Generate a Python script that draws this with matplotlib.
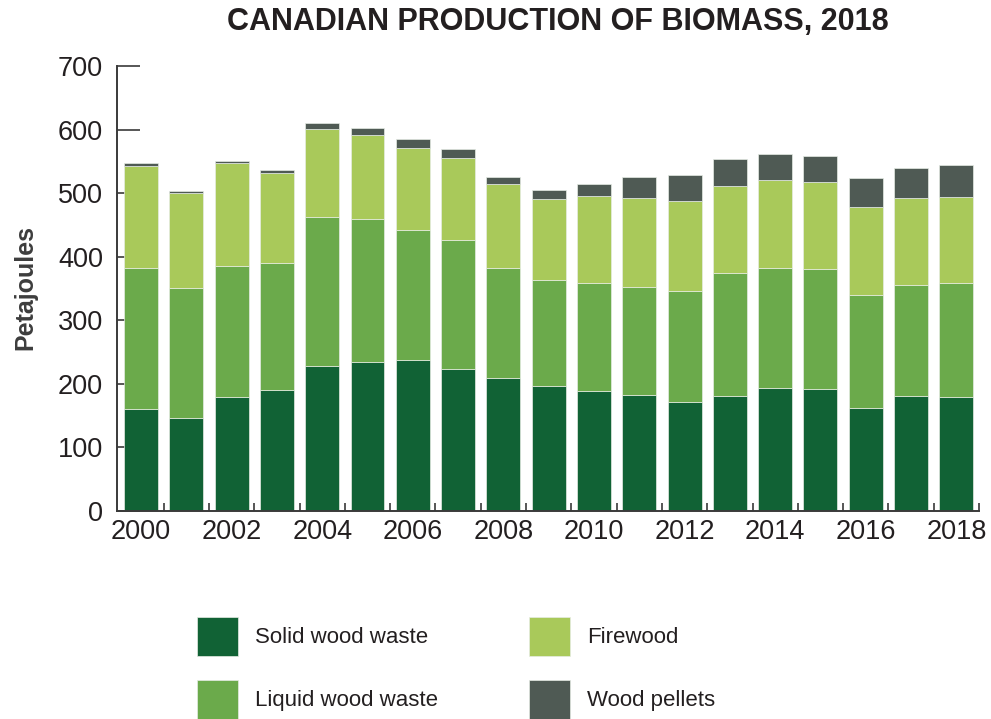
import matplotlib
matplotlib.use("Agg")
import matplotlib.pyplot as plt
import numpy as np

years = list(range(2000, 2019))
solid = [160, 147, 179, 190, 228, 235, 238, 224, 210, 196, 188, 183, 172, 181, 194, 192, 162, 181, 179]
liquid = [223, 204, 206, 200, 234, 225, 204, 202, 173, 168, 170, 170, 174, 193, 189, 188, 178, 175, 179]
firewood = [159, 150, 162, 141, 139, 132, 129, 130, 132, 127, 138, 139, 141, 138, 138, 137, 138, 136, 136]
pellets = [6, 3, 4, 5, 9, 11, 14, 13, 11, 14, 19, 34, 41, 41, 41, 41, 46, 48, 50]
series_names = ["Solid wood waste", "Liquid wood waste", "Firewood", "Wood pellets"]
colors = ["#116235", "#6BAA4B", "#A9C95A", "#4F5A54"]
title = "CANADIAN PRODUCTION OF BIOMASS, 2018"
ylabel = "Petajoules"

plt.rcParams['font.family'] = ['Liberation Sans', 'DejaVu Sans']
txt = "#231f20"

fig = plt.figure(figsize=(9.91, 7.19), dpi=100)
ax = fig.add_axes([117/991, 1 - 511/719, (979 - 117)/991, (511 - 66)/719])

x = np.array(years)
bottom = np.zeros(len(years))
handles = []
for vals, name, c in zip([solid, liquid, firewood, pellets], series_names, colors):
    h = ax.bar(x, vals, width=0.75, bottom=bottom, color=c, label=name,
               edgecolor="#e6ece4", linewidth=0.5, zorder=2)
    handles.append(h)
    bottom += np.array(vals)

ax.set_xlim(1999.47, 2018.5)
ax.set_ylim(0, 700)
ax.set_yticks(range(0, 701, 100))
ax.set_xticks(years[::2])
ax.set_xticks(np.arange(2000.5, 2019, 1), minor=True)
ax.set_axisbelow(True)

for s in ["top", "right"]:
    ax.spines[s].set_visible(False)
for s in ["left", "bottom"]:
    ax.spines[s].set_linewidth(1.4)
    ax.spines[s].set_color("#3a3a3a")

ax.tick_params(axis="y", direction="in", length=16.5, width=1.2, color="#3a3a3a",
               labelsize=19.5, labelcolor=txt, pad=10)
ax.tick_params(axis="x", which="major", length=0, labelsize=19.5, labelcolor=txt, pad=6)
ax.tick_params(axis="x", which="minor", direction="in", length=6, width=1.2, color="#3a3a3a")

fig.text(557.5/991, 1 - 22/719, title, ha="center", va="center",
         fontsize=22, fontweight="bold", color=txt)
fig.text(25/991, 1 - 287/719, ylabel, ha="center", va="center", rotation=90,
         fontsize=18, fontweight="bold", color="#3d3d3d")

fig.legend(handles=handles, labels=series_names, ncol=2, frameon=False,
           loc="upper left", bbox_to_anchor=(197/991, 1 - 617/719),
           borderpad=0, borderaxespad=0, fontsize=16,
           handlelength=1.85, handleheight=2.3, handletextpad=0.75,
           columnspacing=4.1, labelspacing=1.1, labelcolor=txt)

fig.savefig("out.png", dpi=100)
